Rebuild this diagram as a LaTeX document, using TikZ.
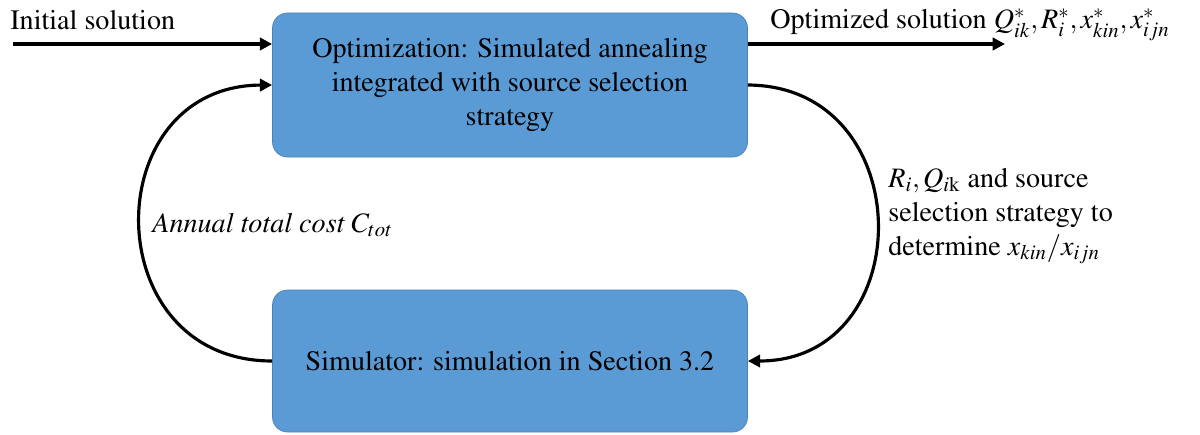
\documentclass[tikz,border=0pt]{standalone}
\usepackage{amsmath}
\usepackage[T1]{fontenc}
\usepackage{mathptmx}
\usetikzlibrary{arrows.meta}
\definecolor{boxblue}{HTML}{5B9BD5}
\definecolor{boxedge}{HTML}{4A82B8}
\tikzset{
  stagebox/.style={draw=boxedge, fill=boxblue, rounded corners=0.3cm, minimum width=9.5cm, align=center, font=\fontsize{16}{19.3}\selectfont},
  flow/.style={line width=1.8pt, -{Triangle[length=7pt,width=7pt]}},
  lbl/.style={inner sep=0pt, font=\fontsize{16}{19.3}\selectfont}
}

\begin{document}
\begin{tikzpicture}
\useasboundingbox (0,0) rectangle (24,8.68);
\node[stagebox, minimum height=2.88cm] (opt) at (10.2,6.98) {Optimization: Simulated annealing\\integrated with source selection\\strategy};
\node[stagebox, minimum height=2.84cm] (sim) at (10.2,1.46) {Simulator: simulation in Section 3.2};
\coordinate (in) at (0.26,7.8);
\coordinate (out) at (20.1,7.8);
\draw[flow] (in) -- (opt.west |- in);
\draw[flow] (opt.east |- out) -- (out);
\node[lbl, anchor=west] (inlbl) at (0.2,8.28) {Initial solution};
\node[lbl, anchor=west] (outlbl) at (15.4,8.18) {Optimized solution $Q_{ik}^{*}, R_i^{*}, x_{kin}^{*}, x_{ijn}^{*}$};
\draw[flow] (sim.west) .. controls (1.92,1.46) and (1.92,6.96) .. (opt.west);
\draw[flow] (opt.east) .. controls (18.4,6.96) and (18.4,1.46) .. (sim.east);
\node[lbl, anchor=west] (costlbl) at (3.04,4.18) {\itshape Annual total cost $C_{tot}$};
\node[lbl, anchor=west, align=left] (parlbl) at (17.76,4.36) {$R_i, Q_{i\mathrm{k}}$ and source\\selection strategy to\\determine $x_{kin}/x_{ijn}$};
\end{tikzpicture}
\end{document}
